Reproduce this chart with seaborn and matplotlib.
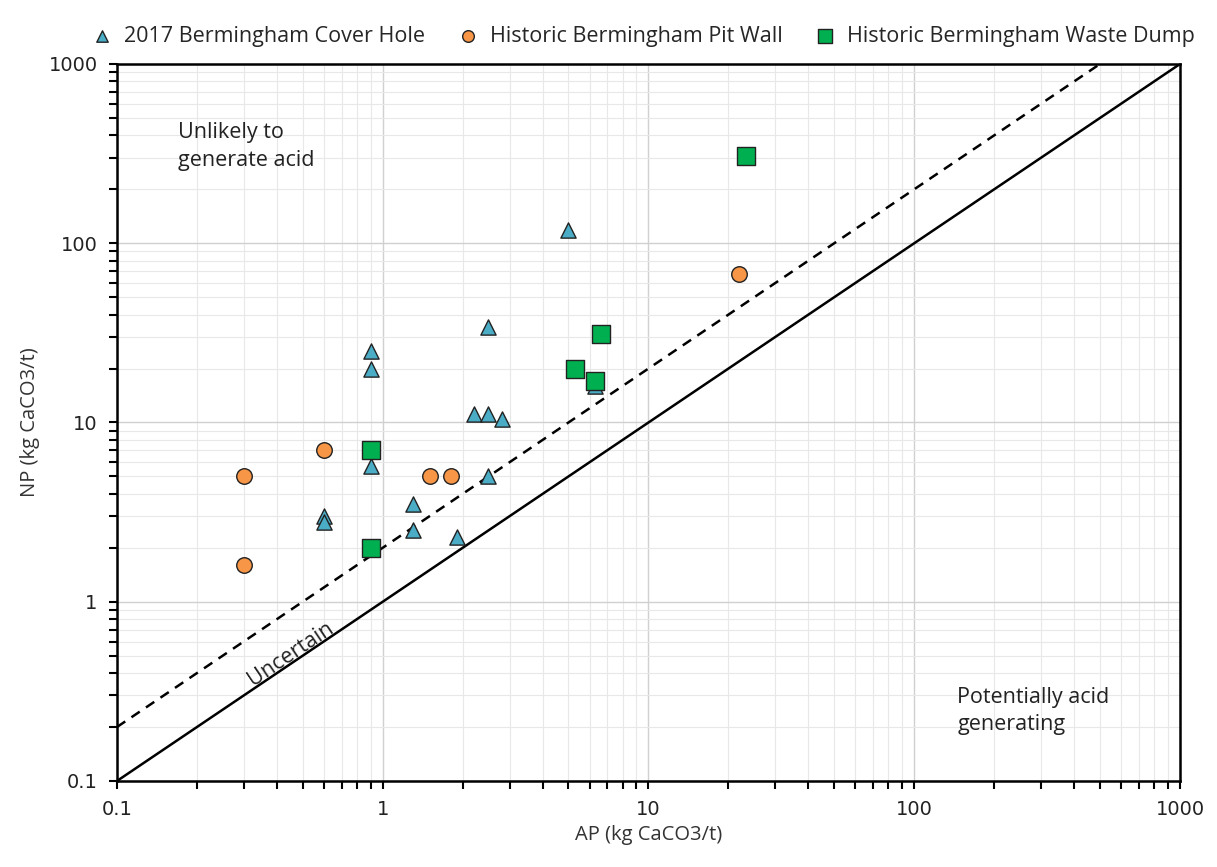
import numpy as np
import pandas as pd
import matplotlib
matplotlib.use("Agg")
import matplotlib.pyplot as plt
import seaborn as sns
from matplotlib.ticker import LogLocator, FixedLocator, FixedFormatter, NullFormatter

# ---- data ----
cover_ap = [0.9, 0.9, 0.9, 0.6, 0.6, 1.3, 1.3, 1.9, 2.2, 2.5, 2.8, 2.5, 2.5, 5.0, 6.3]
cover_np = [25, 20, 5.7, 3.0, 2.8, 3.5, 2.5, 2.3, 11.2, 11.2, 10.4, 5.0, 34, 118, 16]
pit_ap = [0.3, 0.3, 0.6, 1.5, 1.8, 22]
pit_np = [5.0, 1.6, 7.0, 5.0, 5.0, 67]
dump_ap = [0.9, 0.9, 5.3, 6.3, 6.6, 23.3]
dump_np = [7.0, 2.0, 20, 17, 31, 305]

series_names = ["2017 Bermingham Cover Hole", "Historic Bermingham Pit Wall",
                "Historic Bermingham Waste Dump"]
ticks = [0.1, 1, 10, 100, 1000]
tick_labels = ["0.1", "1", "10", "100", "1000"]
line_x = [0.1, 1000]

df = pd.DataFrame({
    "AP": cover_ap + pit_ap + dump_ap,
    "NP": cover_np + pit_np + dump_np,
    "Series": [series_names[0]] * len(cover_ap) + [series_names[1]] * len(pit_ap)
              + [series_names[2]] * len(dump_ap),
})

sns.set_theme(style="white")
plt.rcParams["font.family"] = ["Open Sans", "DejaVu Sans"]

fig = plt.figure(figsize=(12.17, 8.67), dpi=100)
ax = fig.add_axes([0.0961, 0.0992, 0.8735, 0.8270])

ax.set_xscale("log")
ax.set_yscale("log")
ax.set_xlim(0.1, 1000)
ax.set_ylim(0.1, 1000)

# grid
ax.grid(which="major", color="#d0d0d0", lw=1.0)
ax.grid(which="minor", color="#e8e8e8", lw=0.8)
ax.set_axisbelow(True)

# lines
ax.plot(line_x, line_x, color="black", lw=1.8, zorder=2)
ax.plot(line_x, [2 * v for v in line_x], color="black", lw=1.8, ls=(0, (4, 3)), zorder=2)

palette = {series_names[0]: "#4bacc6", series_names[1]: "#f79646", series_names[2]: "#00b050"}
markers = {series_names[0]: "^", series_names[1]: "o", series_names[2]: "s"}
sizes = {series_names[0]: 120, series_names[1]: 125, series_names[2]: 160}

for name in series_names:
    sub = df[df["Series"] == name]
    sns.scatterplot(data=sub, x="AP", y="NP", color=palette[name], marker=markers[name],
                    s=sizes[name], edgecolor="#222222", linewidth=1.0, ax=ax, zorder=3,
                    label=name, legend=True)

ax.xaxis.set_major_locator(FixedLocator(ticks))
ax.xaxis.set_major_formatter(FixedFormatter(tick_labels))
ax.yaxis.set_major_locator(FixedLocator(ticks))
ax.yaxis.set_major_formatter(FixedFormatter(tick_labels))
ax.xaxis.set_minor_locator(LogLocator(base=10, subs=np.arange(2, 10)))
ax.yaxis.set_minor_locator(LogLocator(base=10, subs=np.arange(2, 10)))
ax.xaxis.set_minor_formatter(NullFormatter())
ax.yaxis.set_minor_formatter(NullFormatter())

ax.tick_params(axis="both", which="both", direction="out", length=6, width=1.5,
               color="black", bottom=True, left=True)
ax.tick_params(axis="both", which="major", labelsize=14, pad=8)
for lab in ax.get_xticklabels() + ax.get_yticklabels():
    lab.set_family("DejaVu Sans")
    lab.set_color("#222222")

for sp in ax.spines.values():
    sp.set_color("black")
    sp.set_linewidth(1.8)

ax.set_xlabel("AP (kg CaCO3/t)", fontsize=14.5, color="#333333", labelpad=4)
ax.set_ylabel("NP (kg CaCO3/t)", fontsize=14.5, color="#333333", labelpad=6)

ax.text(0.17, 474, "Unlikely to\ngenerate acid", fontsize=15.5, color="#222222",
        va="top", ha="left", linespacing=1.4)
ax.text(145, 0.335, "Potentially acid\ngenerating", fontsize=15.5, color="#222222",
        va="top", ha="left", linespacing=1.4)
ax.text(0.45, 0.51, "Uncertain", fontsize=15.5, color="#222222", rotation=34,
        ha="center", va="center", rotation_mode="anchor")

ax.legend(loc="lower center", bbox_to_anchor=(0.49, 1.0), ncol=3, frameon=False,
          fontsize=15.5, handletextpad=0.0, columnspacing=1.0, markerscale=0.75,
          borderaxespad=0.4)

fig.savefig("out.png", dpi=100, facecolor="white")
